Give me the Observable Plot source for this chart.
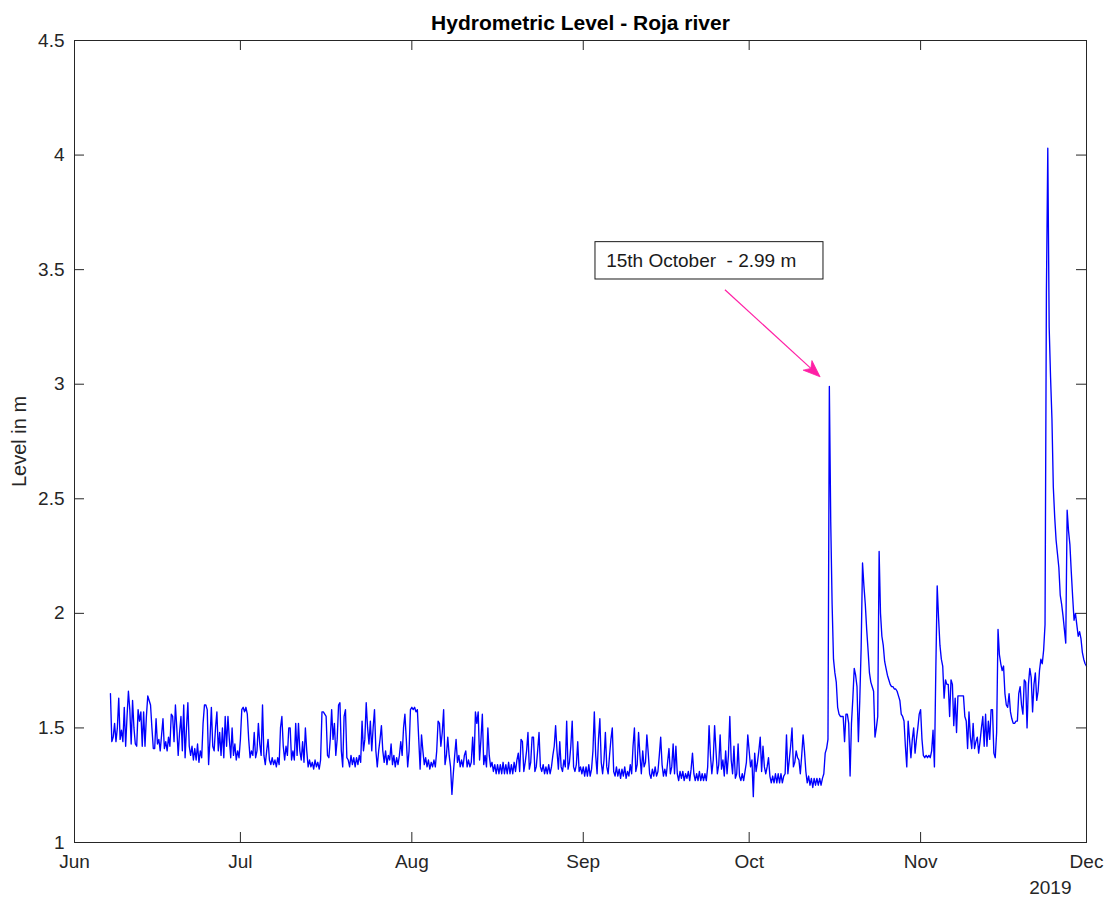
<!DOCTYPE html>
<html>
<head>
<meta charset="utf-8">
<script src="https://cdn.jsdelivr.net/npm/d3@7"></script>
<script src="https://cdn.jsdelivr.net/npm/@observablehq/plot@0.6"></script>
<style>
  html, body { margin: 0; padding: 0; background: #fff; }
</style>
</head>
<body>
<div id="chart"></div>
<script>
// Hydrometric level of the Roja river (m), one reading every six hours.
const SIX_HOURS = 6 * 3600 * 1000;

// June, from the 7th at 12:00
const levelsJun = [
  1.65, 1.44,
  1.46, 1.52, 1.44, 1.50,  1.63, 1.45, 1.49, 1.44,
  1.59, 1.42, 1.55, 1.66,  1.58, 1.43, 1.62, 1.50,
  1.43, 1.42, 1.58, 1.53,  1.57, 1.42, 1.57, 1.42,
  1.55, 1.64, 1.62, 1.60,  1.50, 1.41, 1.41, 1.54,
  1.43, 1.45, 1.40, 1.47,  1.54, 1.41, 1.44, 1.40,
  1.46, 1.42, 1.56, 1.55,  1.44, 1.60, 1.50, 1.38,
  1.48, 1.55, 1.40, 1.60,  1.37, 1.50, 1.61, 1.42,
  1.38, 1.42, 1.36, 1.41,  1.36, 1.43, 1.35, 1.40,
  1.37, 1.52, 1.60, 1.60,  1.58, 1.34, 1.45, 1.59,
  1.42, 1.40, 1.50, 1.57,  1.40, 1.48, 1.38, 1.50,
  1.37, 1.55, 1.42, 1.55,  1.45, 1.37, 1.50, 1.38,
  1.43, 1.36, 1.40, 1.37
];

const levelsJul = [
  1.45, 1.58, 1.59, 1.57,  1.59, 1.56, 1.45, 1.37,
  1.40, 1.38, 1.48, 1.37,  1.40, 1.52, 1.43, 1.38,
  1.60, 1.38, 1.34, 1.40,  1.45, 1.36, 1.34, 1.37,
  1.34, 1.36, 1.33, 1.37,  1.34, 1.50, 1.55, 1.42,
  1.36, 1.42, 1.38, 1.50,  1.50, 1.36, 1.40, 1.36,
  1.52, 1.38, 1.52, 1.40,  1.36, 1.44, 1.35, 1.50,
  1.40, 1.33, 1.36, 1.33,  1.35, 1.32, 1.36, 1.33,
  1.35, 1.32, 1.36, 1.57,  1.57, 1.56, 1.55, 1.38,
  1.37, 1.45, 1.58, 1.45,  1.52, 1.38, 1.45, 1.60,
  1.61, 1.40, 1.33, 1.55,  1.58, 1.37, 1.36, 1.33,
  1.38, 1.34, 1.37, 1.33,  1.37, 1.34, 1.38, 1.35,
  1.53, 1.40, 1.45, 1.61,  1.50, 1.43, 1.53, 1.40,
  1.50, 1.58, 1.40, 1.33,  1.40, 1.45, 1.51, 1.40,
  1.35, 1.40, 1.34, 1.38,  1.36, 1.43, 1.34, 1.38,
  1.33, 1.37, 1.34, 1.38,  1.44, 1.38, 1.50, 1.56,
  1.45, 1.33, 1.40, 1.58
];

const levelsAug = [
  1.59, 1.58, 1.59, 1.57,  1.58, 1.45, 1.32, 1.47,
  1.40, 1.34, 1.37, 1.33,  1.36, 1.32, 1.35, 1.33,
  1.36, 1.33, 1.40, 1.53,  1.52, 1.42, 1.48, 1.58,
  1.34, 1.38, 1.46, 1.38,  1.33, 1.21, 1.30, 1.38,
  1.45, 1.35, 1.38, 1.33,  1.36, 1.33, 1.38, 1.40,
  1.33, 1.36, 1.33, 1.35,  1.46, 1.34, 1.57, 1.52,
  1.57, 1.36, 1.45, 1.56,  1.34, 1.38, 1.33, 1.50,
  1.38, 1.33, 1.35, 1.31,  1.34, 1.30, 1.34, 1.30,
  1.34, 1.30, 1.35, 1.30,  1.34, 1.30, 1.35, 1.30,
  1.34, 1.30, 1.35, 1.31,  1.36, 1.39, 1.31, 1.45,
  1.44, 1.31, 1.35, 1.40,  1.48, 1.32, 1.35, 1.46,
  1.46, 1.31, 1.33, 1.40,  1.48, 1.33, 1.31, 1.34,
  1.30, 1.33, 1.30, 1.34,  1.30, 1.33, 1.38, 1.42,
  1.51, 1.40, 1.32, 1.44,  1.33, 1.31, 1.36, 1.33,
  1.53, 1.32, 1.35, 1.42,  1.53, 1.33, 1.31, 1.34,
  1.44, 1.31, 1.33, 1.30
];

const levelsSep = [
  1.33, 1.29, 1.33, 1.29,  1.34, 1.29, 1.32, 1.40,
  1.57, 1.38, 1.30, 1.45,  1.54, 1.35, 1.30, 1.36,
  1.48, 1.33, 1.30, 1.38,  1.45, 1.50, 1.31, 1.29,
  1.33, 1.29, 1.32, 1.28,  1.32, 1.29, 1.33, 1.28,
  1.31, 1.29, 1.34, 1.30,  1.42, 1.50, 1.31, 1.34,
  1.48, 1.38, 1.30, 1.40,  1.33, 1.35, 1.47, 1.39,
  1.30, 1.28, 1.32, 1.29,  1.33, 1.29, 1.31, 1.38,
  1.46, 1.34, 1.29, 1.32,  1.29, 1.35, 1.41, 1.30,
  1.33, 1.43, 1.30, 1.42,  1.30, 1.27, 1.31, 1.28,
  1.31, 1.27, 1.30, 1.28,  1.31, 1.27, 1.32, 1.39,
  1.30, 1.27, 1.30, 1.27,  1.31, 1.27, 1.30, 1.27,
  1.30, 1.27, 1.33, 1.51,  1.38, 1.30, 1.36, 1.51,
  1.40, 1.30, 1.34, 1.47,  1.32, 1.36, 1.29, 1.40,
  1.30, 1.38, 1.55, 1.36,  1.30, 1.42, 1.28, 1.30,
  1.43, 1.29, 1.27, 1.30,  1.27, 1.31, 1.35, 1.47
];

const levelsOct = [
  1.40, 1.33, 1.36, 1.20,  1.39, 1.31, 1.35, 1.40,
  1.46, 1.31, 1.42, 1.33,  1.30, 1.33, 1.37, 1.29,
  1.26, 1.29, 1.26, 1.30,  1.26, 1.30, 1.26, 1.30,
  1.26, 1.29, 1.30, 1.47,  1.30, 1.36, 1.42, 1.50,
  1.33, 1.35, 1.40, 1.37,  1.36, 1.30, 1.38, 1.47,
  1.40, 1.31, 1.26, 1.29,  1.25, 1.28, 1.24, 1.28,
  1.25, 1.28, 1.25, 1.28,  1.25, 1.28, 1.30, 1.39,
  1.41, 1.45, 2.99, 2.40,  2.04, 1.80, 1.74, 1.70,
  1.59, 1.56, 1.55, 1.55,  1.55, 1.44, 1.56, 1.56,
  1.52, 1.29, 1.52, 1.63,  1.76, 1.73, 1.68, 1.44,
  1.62, 1.85, 2.22, 2.12,  2.04, 1.93, 1.84, 1.74,
  1.70, 1.68, 1.66, 1.46,  1.50, 1.55, 2.27, 2.00,
  1.90, 1.86, 1.79, 1.76,  1.73, 1.71, 1.69, 1.68,
  1.68, 1.67, 1.67, 1.66,  1.64, 1.62, 1.56, 1.55,
  1.53, 1.42, 1.33, 1.53,  1.45, 1.37, 1.45, 1.50,
  1.39, 1.45, 1.50, 1.56
];

// November, closing with the reading of 1 December at 00:00
const levelsNov = [
  1.58, 1.45, 1.38, 1.37,  1.38, 1.37, 1.38, 1.37,
  1.40, 1.49, 1.33, 1.75,  2.12, 1.98, 1.86, 1.80,
  1.77, 1.63, 1.71, 1.69,  1.69, 1.55, 1.71, 1.69,
  1.51, 1.63, 1.48, 1.64,  1.64, 1.64, 1.64, 1.64,
  1.55, 1.53, 1.41, 1.57,  1.46, 1.41, 1.52, 1.41,
  1.44, 1.46, 1.39, 1.44,  1.50, 1.55, 1.42, 1.56,
  1.42, 1.53, 1.45, 1.58,  1.58, 1.39, 1.37, 1.48,
  1.93, 1.82, 1.78, 1.75,  1.77, 1.65, 1.60, 1.59,
  1.65, 1.57, 1.54, 1.52,  1.52, 1.53, 1.53, 1.65,
  1.68, 1.60, 1.56, 1.71,  1.70, 1.50, 1.69, 1.76,
  1.72, 1.57, 1.69, 1.74,  1.62, 1.66, 1.75, 1.80,
  1.78, 1.84, 1.95, 3.40,  4.03, 3.25, 3.03, 2.85,
  2.55, 2.42, 2.32, 2.26,  2.20, 2.08, 2.04, 1.99,
  1.93, 1.87, 2.45, 2.36,  2.30, 2.18, 2.07, 1.97,
  2.00, 1.95, 1.90, 1.92,  1.89, 1.83, 1.80, 1.78,
  1.77
];

const monthSeries = [
  {start: Date.UTC(2019, 5, 7, 12), values: levelsJun},
  {start: Date.UTC(2019, 6, 1), values: levelsJul},
  {start: Date.UTC(2019, 7, 1), values: levelsAug},
  {start: Date.UTC(2019, 8, 1), values: levelsSep},
  {start: Date.UTC(2019, 9, 1), values: levelsOct},
  {start: Date.UTC(2019, 10, 1), values: levelsNov}
];

const readings = monthSeries.flatMap(({start, values}) =>
  values.map((level, i) => ({date: new Date(start + i * SIX_HOURS), level}))
);

const monthTicks = [
  "2019-06-01", "2019-07-01", "2019-08-01", "2019-09-01",
  "2019-10-01", "2019-11-01", "2019-12-01"
].map((s) => new Date(s));
const levelTicks = [1, 1.5, 2, 2.5, 3, 3.5, 4, 4.5];
const yearLabel = [{date: new Date("2019-12-01"), text: "2019"}];

// The October flood peak, used for the callout text
const octoberPeak = d3.greatest(
  readings.filter((d) => d.date.getUTCMonth() === 9),
  (d) => d.level
);
const calloutText = `15th October  - ${octoberPeak.level.toFixed(2)} m`;

// Callout placement in (date, level) space
const callout = {
  box: {x1: new Date(Date.UTC(2019, 8, 3, 5)), x2: new Date(Date.UTC(2019, 9, 14, 10, 30)), y1: 3.457, y2: 3.620},
  label: {date: new Date(Date.UTC(2019, 8, 5, 3, 30)), level: 3.537},
  from: {date: new Date(Date.UTC(2019, 8, 26, 17)), level: 3.41},
  to: {date: new Date(Date.UTC(2019, 9, 13, 22)), level: 3.03}
};

const W = 1108, H = 898;
const M = {top: 40, right: 22, bottom: 56, left: 74};
const innerW = W - M.left - M.right;
const innerH = H - M.top - M.bottom;
const TICK = 10;
const INK = "#262626";
const ARROW = "#ff1fa5";

// Arrow with a filled, swept-back head
function calloutArrow(index, {x, y}) {
  const x1 = x(callout.from.date), y1 = y(callout.from.level);
  const x2 = x(callout.to.date), y2 = y(callout.to.level);
  const a = Math.atan2(y2 - y1, x2 - x1);
  const ux = Math.cos(a), uy = Math.sin(a);
  const nx = -uy, ny = ux;
  const len = 17, half = 6.5, notch = 4.5;
  const bx = x2 - len * ux, by = y2 - len * uy;
  const mx = x2 - (len - notch) * ux, my = y2 - (len - notch) * uy;
  const g = d3.create("svg:g");
  g.append("line")
    .attr("x1", x1).attr("y1", y1).attr("x2", mx).attr("y2", my)
    .attr("stroke", ARROW).attr("stroke-width", 1.2);
  g.append("path")
    .attr("d", `M${x2},${y2}L${bx + half * nx},${by + half * ny}L${mx},${my}L${bx - half * nx},${by - half * ny}Z`)
    .attr("fill", ARROW).attr("stroke", ARROW).attr("stroke-width", 0.8)
    .attr("stroke-linejoin", "round");
  return g.node();
}

const chart = Plot.plot({
  width: W,
  height: H,
  marginTop: M.top,
  marginRight: M.right,
  marginBottom: M.bottom,
  marginLeft: M.left,
  style: {
    fontFamily: "'Liberation Sans', Arial, Helvetica, sans-serif",
    fontSize: "19px",
    color: INK,
    background: "#fff"
  },
  x: {type: "utc", domain: [new Date("2019-06-01"), new Date("2019-12-01")], label: null},
  y: {domain: [1, 4.5], label: null},
  marks: [
    Plot.line(readings, {x: "date", y: "level", stroke: "#0000ff", strokeWidth: 1.35}),

    // box and inward ticks on all four sides
    Plot.frame({stroke: INK, strokeWidth: 1}),
    Plot.tickX(monthTicks, {x: (d) => d, insetTop: innerH - TICK, stroke: INK}),
    Plot.tickX(monthTicks, {x: (d) => d, insetBottom: innerH - TICK, stroke: INK}),
    Plot.tickY(levelTicks, {y: (d) => d, insetRight: innerW - TICK, stroke: INK}),
    Plot.tickY(levelTicks, {y: (d) => d, insetLeft: innerW - TICK, stroke: INK}),

    Plot.axisX({ticks: monthTicks, tickFormat: d3.utcFormat("%b"), tickSize: 0, tickPadding: 12, fill: INK}),
    Plot.axisY({ticks: levelTicks, tickFormat: d3.format("~g"), tickSize: 0, tickPadding: 10, fill: INK}),
    Plot.text(yearLabel, {x: "date", text: "text", frameAnchor: "bottom", dy: 38, dx: -15,
      lineAnchor: "top", textAnchor: "end", fill: INK}),

    // title and y label
    Plot.text(["Hydrometric Level - Roja river"], {frameAnchor: "top", dy: -11, lineAnchor: "bottom",
      fontWeight: "bold", fontSize: 21, fill: "#000"}),
    Plot.text(["Level in m"], {frameAnchor: "left", dx: -55, rotate: -90, textAnchor: "middle",
      lineAnchor: "middle", fontSize: 20, fill: INK}),

    // callout
    Plot.rect([callout.box], {x1: "x1", x2: "x2", y1: "y1", y2: "y2", fill: "#fff", stroke: "#1a1a1a", strokeWidth: 1}),
    Plot.text([callout.label], {x: "date", y: "level", text: () => calloutText, textAnchor: "start",
      fontSize: 19, fill: "#1a1a1a"}),
    calloutArrow
  ]
});

document.getElementById("chart").appendChild(chart);
</script>
</body>
</html>
